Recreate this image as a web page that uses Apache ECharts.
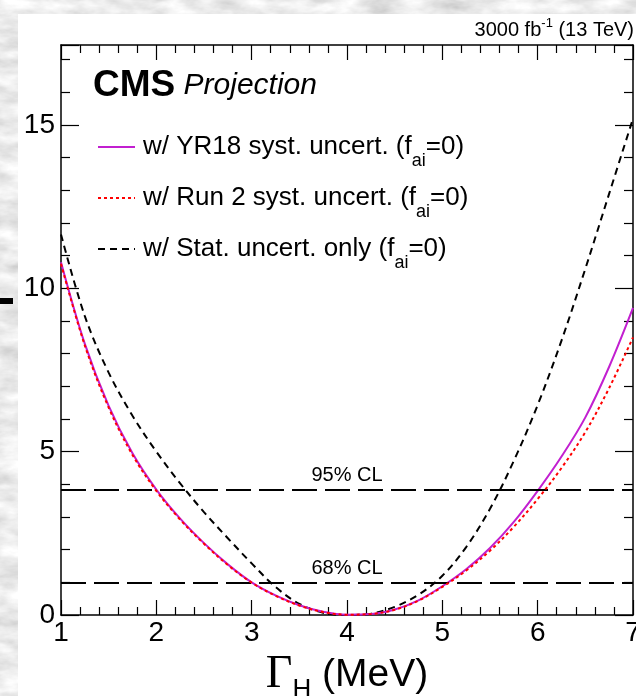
<!DOCTYPE html>
<html><head><meta charset="utf-8">
<script src="https://cdn.jsdelivr.net/npm/echarts@6/dist/echarts.min.js"></script>
<style>
html,body{margin:0;padding:0;width:636px;height:696px;overflow:hidden;background-color:#d3d3d3;}
body{background-image:url("data:image/svg+xml;utf8,<svg xmlns='http://www.w3.org/2000/svg' width='636' height='696'><filter id='n'><feTurbulence type='fractalNoise' baseFrequency='0.03 0.07' numOctaves='4' seed='5'/><feColorMatrix values='0.55 0 0 0 0.55  0.55 0 0 0 0.55  0.55 0 0 0 0.55  0 0 0 0 1'/></filter><rect width='100%' height='100%' filter='url(%23n)'/></svg>");}
#paper{position:absolute;left:18px;top:14px;width:618px;height:682px;background:#fff;}
#mark{position:absolute;left:0;top:298px;width:13px;height:6px;background:#000;}
#chart{position:absolute;left:0;top:0;width:636px;height:696px;}
</style></head><body>
<div id="paper"></div><div id="mark"></div><div id="chart"></div>
<script>
// ---- data ----
const gammaH   = [1,1.25,1.5,1.75,2,2.25,2.5,2.75,3,3.25,3.5,3.75,4,4.25,4.5,4.75,5,5.25,5.5,5.75,6,6.25,6.5,6.75,7];
const yr18     = [10.8,8.3,6.4,4.95,3.84,2.95,2.2,1.55,1.0,0.6,0.3,0.1,0.01,0.03,0.17,0.45,0.88,1.4,2.05,2.85,3.8,4.85,6.05,7.6,9.4];
const run2     = [10.75,8.25,6.35,4.9,3.8,2.92,2.18,1.53,0.99,0.59,0.29,0.09,0.01,0.03,0.16,0.44,0.86,1.36,1.97,2.7,3.55,4.5,5.6,6.95,8.5];
const statOnly = [11.65,9.15,7.42,6.1,5.0,4.03,3.15,2.35,1.58,0.86,0.34,0.07,0.0,0.04,0.25,0.62,1.2,2.08,3.25,4.72,6.43,8.4,10.6,12.9,15.2];
const clLevels = [3.84, 1.0];
const clLabels = ['95% CL', '68% CL'];
const seriesNames = ['w/ YR18 syst. uncert.', 'w/ Run 2 syst. uncert.', 'w/ Stat. uncert. only'];
const xRange = [1, 7];
const yRange = [0, 17.45];

const zip = (xs, ys) => xs.map((x, i) => [x, ys[i]]);
const FONT = 'Liberation Sans';
const PURPLE = '#c21fd0';

const tickCommon = (len) => ({
  axisLine: {show: true, onZero: false, lineStyle: {color: '#000', width: 1.5}},
  axisTick: {show: true, inside: true, length: len, lineStyle: {color: '#000', width: 1.2}},
  minorTick: {show: true, splitNumber: 5, length: Math.round(len / 2), lineStyle: {color: '#000', width: 1.2}},
  splitLine: {show: false}, minorSplitLine: {show: false}
});

const chart = echarts.init(document.getElementById('chart'), null, {renderer: 'canvas'});

const legendRows = [147, 198, 249];
const legendStyles = [
  {color: PURPLE, dash: null},
  {color: '#ff0000', dash: [3, 3]},
  {color: '#000000', dash: [7, 5]}
];
const legendGraphics = [];
seriesNames.forEach((n, i) => {
  legendGraphics.push({
    type: 'line', shape: {x1: 98, y1: legendRows[i], x2: 135, y2: legendRows[i]},
    style: {stroke: legendStyles[i].color, lineWidth: 2, lineDash: legendStyles[i].dash}
  });
  legendGraphics.push({
    type: 'text', x: 143, y: legendRows[i],
    style: {
      text: '{t|' + n + ' (f}{s|ai}{t|=0)}',
      verticalAlign: 'middle',
      rich: {
        t: {fontSize: 26, fontFamily: FONT, color: '#000'},
        s: {fontSize: 18, fontFamily: FONT, color: '#000', padding: [28, 0, 0, 0]}
      }
    }
  });
});

chart.setOption({
  animation: false,
  backgroundColor: 'transparent',
  grid: {left: 61, top: 45, width: 572, height: 570, containLabel: false, outerBoundsMode: 'none'},
  xAxis: [
    Object.assign({
      type: 'value', min: xRange[0], max: xRange[1], interval: 1, position: 'bottom',
      axisLabel: {fontSize: 28, color: '#000', fontFamily: FONT, margin: 4},
      name: '{g|Γ}{h|H}{u| (MeV)}', nameLocation: 'middle', nameGap: 29,
      nameTextStyle: {
        color: '#000',
        rich: {
          g: {fontSize: 46, fontFamily: 'Liberation Serif', color: '#000'},
          h: {fontSize: 26, fontFamily: FONT, color: '#000', padding: [30, 0, 0, 0]},
          u: {fontSize: 39, fontFamily: FONT, color: '#000'}
        }
      }
    }, tickCommon(15)),
    Object.assign({
      type: 'value', min: xRange[0], max: xRange[1], interval: 1, position: 'top',
      axisLabel: {show: false}
    }, tickCommon(15))
  ],
  yAxis: [
    Object.assign({
      type: 'value', min: yRange[0], max: yRange[1], interval: 5, position: 'left',
      axisLabel: {fontSize: 28, color: '#000', fontFamily: FONT, margin: 6,
        formatter: v => (Math.abs(v % 5) < 1e-9 ? String(v) : '')}
    }, tickCommon(18)),
    Object.assign({
      type: 'value', min: yRange[0], max: yRange[1], interval: 5, position: 'right',
      axisLabel: {show: false}
    }, tickCommon(18))
  ],
  series: [
    {
      name: 'CL', type: 'line', data: [], silent: true,
      markLine: {
        silent: true, symbol: 'none',
        lineStyle: {color: '#000', width: 2, type: [25, 8]},
        label: {position: 'insideMiddleTop', distance: 4, fontSize: 20, color: '#000', fontFamily: FONT,
          formatter: p => p.name},
        data: clLevels.map((v, i) => ({yAxis: v, name: clLabels[i]}))
      }
    },
    {name: seriesNames[2], type: 'line', data: zip(gammaH, statOnly), symbol: 'none', smooth: 0.35,
      lineStyle: {color: '#000', width: 2, type: [7, 5]}, z: 3},
    {name: seriesNames[0], type: 'line', data: zip(gammaH, yr18), symbol: 'none', smooth: 0.35,
      lineStyle: {color: PURPLE, width: 2}, z: 4},
    {name: seriesNames[1], type: 'line', data: zip(gammaH, run2), symbol: 'none', smooth: 0.35,
      lineStyle: {color: '#ff0000', width: 2, type: [3, 3]}, z: 5}
  ],
  graphic: [
    {
      type: 'text', x: 634, y: 30,
      style: {
        text: '{t|3000 fb}{p|-1}{t| (13 TeV)}', align: 'right', verticalAlign: 'middle',
        rich: {
          t: {fontSize: 20, fontFamily: FONT, color: '#000'},
          p: {fontSize: 13, fontFamily: FONT, color: '#000', padding: [0, 0, 13, 0]}
        }
      }
    },
    {
      type: 'text', x: 93, y: 86,
      style: {
        text: '{b|CMS}{i| Projection}', verticalAlign: 'middle',
        rich: {
          b: {fontSize: 37, fontWeight: 'bold', fontFamily: FONT, color: '#000'},
          i: {fontSize: 30, fontStyle: 'italic', fontFamily: FONT, color: '#000'}
        }
      }
    }
  ].concat(legendGraphics)
});
</script>
</body></html>
